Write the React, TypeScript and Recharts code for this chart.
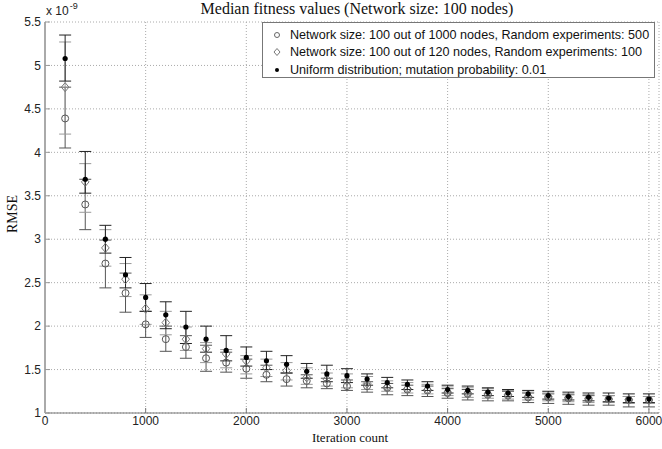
import React from "react";
import {
  ComposedChart,
  Scatter,
  ErrorBar,
  XAxis,
  YAxis,
  CartesianGrid,
} from "recharts";

// iteration counts (x)
const iterations = [
  200, 400, 600, 800, 1000, 1200, 1400, 1600, 1800, 2000, 2200, 2400, 2600, 2800, 3000,
  3200, 3400, 3600, 3800, 4000, 4200, 4400, 4600, 4800, 5000, 5200, 5400, 5600, 5800, 6000,
];

// "Network size: 100 out of 1000 nodes, Random experiments: 500" (open circle), x 1e-9
const circleMedian = [
  4.39, 3.4, 2.72, 2.38, 2.02, 1.85, 1.76, 1.63, 1.58, 1.51, 1.44, 1.39, 1.37, 1.34, 1.31,
  1.31, 1.29, 1.27, 1.26, 1.23, 1.22, 1.21, 1.2, 1.18, 1.18, 1.17, 1.16, 1.16, 1.15, 1.15,
];
const circleLow = [
  4.05, 3.11, 2.44, 2.16, 1.87, 1.71, 1.63, 1.48, 1.47, 1.4, 1.36, 1.31, 1.29, 1.28, 1.26,
  1.24, 1.21, 1.2, 1.19, 1.17, 1.15, 1.14, 1.14, 1.12, 1.11, 1.1, 1.09, 1.09, 1.07, 1.07,
];
const circleHigh = [
  4.75, 3.69, 2.99, 2.61, 2.17, 2.0, 1.89, 1.78, 1.7, 1.62, 1.55, 1.46, 1.44, 1.4, 1.38,
  1.36, 1.34, 1.32, 1.31, 1.28, 1.27, 1.26, 1.25, 1.23, 1.22, 1.21, 1.2, 1.2, 1.19, 1.19,
];

// "Network size: 100 out of 120 nodes, Random experiments: 100" (open diamond)
const diamondMedian = [
  4.75, 3.66, 2.9, 2.54, 2.2, 2.04, 1.85, 1.74, 1.68, 1.6, 1.52, 1.49, 1.41, 1.39, 1.37,
  1.34, 1.3, 1.28, 1.27, 1.24, 1.23, 1.22, 1.21, 1.19, 1.19, 1.18, 1.17, 1.16, 1.155, 1.15,
];
const diamondLow = [
  4.21, 3.31, 2.69, 2.34, 2.02, 1.9, 1.72, 1.58, 1.52, 1.45, 1.42, 1.38, 1.33, 1.31, 1.29,
  1.27, 1.25, 1.23, 1.22, 1.2, 1.18, 1.17, 1.16, 1.15, 1.14, 1.13, 1.12, 1.12, 1.11, 1.11,
];
const diamondHigh = [
  5.27, 3.87, 3.11, 2.72, 2.36, 2.17, 1.99, 1.81, 1.73, 1.66, 1.62, 1.58, 1.52, 1.46, 1.45,
  1.42, 1.37, 1.35, 1.33, 1.3, 1.29, 1.28, 1.26, 1.24, 1.23, 1.22, 1.21, 1.2, 1.19, 1.19,
];

// "Uniform distribution; mutation probability: 0.01" (filled dot)
const dotMedian = [
  5.08, 3.69, 3.0, 2.59, 2.33, 2.13, 1.99, 1.85, 1.72, 1.64, 1.6, 1.56, 1.48, 1.45, 1.43,
  1.39, 1.35, 1.33, 1.31, 1.27, 1.26, 1.24, 1.23, 1.22, 1.2, 1.19, 1.18, 1.17, 1.16, 1.16,
];
const dotLow = [
  4.82, 3.53, 2.84, 2.44, 2.17, 1.97, 1.8, 1.7, 1.6, 1.54, 1.5, 1.46, 1.4, 1.36, 1.35,
  1.32, 1.29, 1.27, 1.26, 1.23, 1.22, 1.2, 1.19, 1.18, 1.16, 1.15, 1.14, 1.13, 1.12, 1.12,
];
const dotHigh = [
  5.35, 4.01, 3.16, 2.79, 2.49, 2.28, 2.17, 2.0, 1.89, 1.76, 1.71, 1.66, 1.57, 1.55, 1.51,
  1.45, 1.41, 1.38, 1.36, 1.32, 1.31, 1.29, 1.27, 1.26, 1.25, 1.24, 1.23, 1.23, 1.22, 1.22,
];

const xTicks = [0, 1000, 2000, 3000, 4000, 5000, 6000];
const yTicks = [1, 1.5, 2, 2.5, 3, 3.5, 4, 4.5, 5, 5.5];

const legendLabels = [
  "Network size: 100 out of 1000 nodes, Random experiments: 500",
  "Network size: 100 out of 120 nodes, Random experiments: 100",
  "Uniform distribution; mutation probability: 0.01",
];

const build = (med: number[], lo: number[], hi: number[]) =>
  iterations.map((x, i) => ({ x, y: med[i], err: [med[i] - lo[i], hi[i] - med[i]] }));

const circleData = build(circleMedian, circleLow, circleHigh);
const diamondData = build(diamondMedian, diamondLow, diamondHigh);
const dotData = build(dotMedian, dotLow, dotHigh);

const sans = "'Liberation Sans', Arial, Helvetica, sans-serif";
const serif = "'Liberation Serif', 'Times New Roman', serif";
const tickStyle = { fontSize: 12, fill: "#222", fontFamily: sans };

const CircleMark = (p: any) => (
  <circle cx={p.cx} cy={p.cy} r={3.5} fill="none" stroke="#555" strokeWidth={1} />
);
const DiamondMark = (p: any) => (
  <path
    d={`M${p.cx},${p.cy - 4.5}L${p.cx + 3.8},${p.cy}L${p.cx},${p.cy + 4.5}L${p.cx - 3.8},${p.cy}Z`}
    fill="none"
    stroke="#777"
    strokeWidth={1}
  />
);
const DotMark = (p: any) => <circle cx={p.cx} cy={p.cy} r={2.6} fill="#000" />;

function LegendBox() {
  const marks = [
    <circle key="c" cx={6} cy={6} r={2.5} fill="none" stroke="#666" />,
    <path key="d" d="M6,2.5L9,6L6,9.5L3,6Z" fill="none" stroke="#777" />,
    <circle key="f" cx={6} cy={6} r={2} fill="#000" />,
  ];
  return (
    <div
      style={{
        position: "absolute",
        left: 262,
        top: 22,
        width: 391,
        height: 54,
        border: "1px solid #777",
        background: "#fff",
        fontFamily: sans,
        fontSize: 12.6,
        color: "#111",
      }}
    >
      {legendLabels.map((t, i) => (
        <div
          key={t}
          style={{
            position: "absolute",
            left: 8,
            top: 3 + i * 17.5,
            height: 17,
            display: "flex",
            alignItems: "center",
            whiteSpace: "nowrap",
          }}
        >
          <svg width={12} height={12} style={{ marginRight: 7 }}>
            {marks[i]}
          </svg>
          {t}
        </div>
      ))}
    </div>
  );
}

export default function App() {
  return (
    <div style={{ position: "absolute", left: 0, top: 0, width: 662, height: 449, background: "#fff" }}>
      <ComposedChart width={662} height={449} margin={{ top: 22, right: 3, left: 5, bottom: 6 }}>
        <CartesianGrid stroke="#aaa" strokeDasharray="1 2" />
        <XAxis
          dataKey="x"
          type="number"
          domain={[0, 6100]}
          ticks={xTicks}
          allowDataOverflow
          height={30}
          tickSize={-5}
          tickMargin={8}
          tick={tickStyle}
          axisLine={{ stroke: "#777" }}
          tickLine={{ stroke: "#777" }}
        />
        <XAxis
          xAxisId="top"
          orientation="top"
          type="number"
          domain={[0, 6100]}
          ticks={xTicks}
          allowDataOverflow
          height={0}
          tickSize={-5}
          tick={false}
          axisLine={{ stroke: "#888" }}
          tickLine={{ stroke: "#888" }}
        />
        <YAxis
          type="number"
          domain={[1, 5.5]}
          ticks={yTicks}
          allowDataOverflow
          width={40}
          tickSize={-5}
          tickMargin={9}
          tick={tickStyle}
          axisLine={{ stroke: "#aaa", strokeWidth: 2 }}
          tickLine={{ stroke: "#999" }}
        />
        <YAxis
          yAxisId="right"
          orientation="right"
          type="number"
          domain={[1, 5.5]}
          ticks={yTicks}
          allowDataOverflow
          width={0}
          tickSize={-5}
          tick={false}
          axisLine={{ stroke: "#888" }}
          tickLine={{ stroke: "#888" }}
        />
        <Scatter data={circleData} dataKey="y" shape={CircleMark} isAnimationActive={false}>
          <ErrorBar dataKey="err" direction="y" width={6} stroke="#555" strokeWidth={1} isAnimationActive={false} />
        </Scatter>
        <Scatter data={diamondData} dataKey="y" shape={DiamondMark} isAnimationActive={false}>
          <ErrorBar dataKey="err" direction="y" width={6} stroke="#999" strokeWidth={1} isAnimationActive={false} />
        </Scatter>
        <Scatter data={dotData} dataKey="y" shape={DotMark} isAnimationActive={false}>
          <ErrorBar dataKey="err" direction="y" width={6} stroke="#222" strokeWidth={1} isAnimationActive={false} />
        </Scatter>
      </ComposedChart>

      <div
        style={{
          position: "absolute",
          left: 50,
          width: 614,
          top: 0,
          textAlign: "center",
          fontFamily: serif,
          fontSize: 16,
          lineHeight: "18px",
          color: "#111",
        }}
      >
        Median fitness values (Network size: 100 nodes)
      </div>

      <div style={{ position: "absolute", left: 46, top: 4, fontFamily: sans, fontSize: 12, color: "#222" }}>
        x 10
        <span style={{ position: "relative", top: -6, fontSize: 9, marginLeft: 1 }}>-9</span>
      </div>

      <div
        style={{
          position: "absolute",
          left: 13,
          top: 214,
          transform: "translate(-50%, -50%) rotate(-90deg)",
          fontFamily: serif,
          fontSize: 14,
          color: "#111",
          whiteSpace: "nowrap",
        }}
      >
        RMSE
      </div>

      <div
        style={{
          position: "absolute",
          left: 350,
          top: 437,
          transform: "translate(-50%, -50%)",
          fontFamily: serif,
          fontSize: 13,
          lineHeight: "13px",
          color: "#111",
          whiteSpace: "nowrap",
        }}
      >
        Iteration count
      </div>

      <LegendBox />
    </div>
  );
}
